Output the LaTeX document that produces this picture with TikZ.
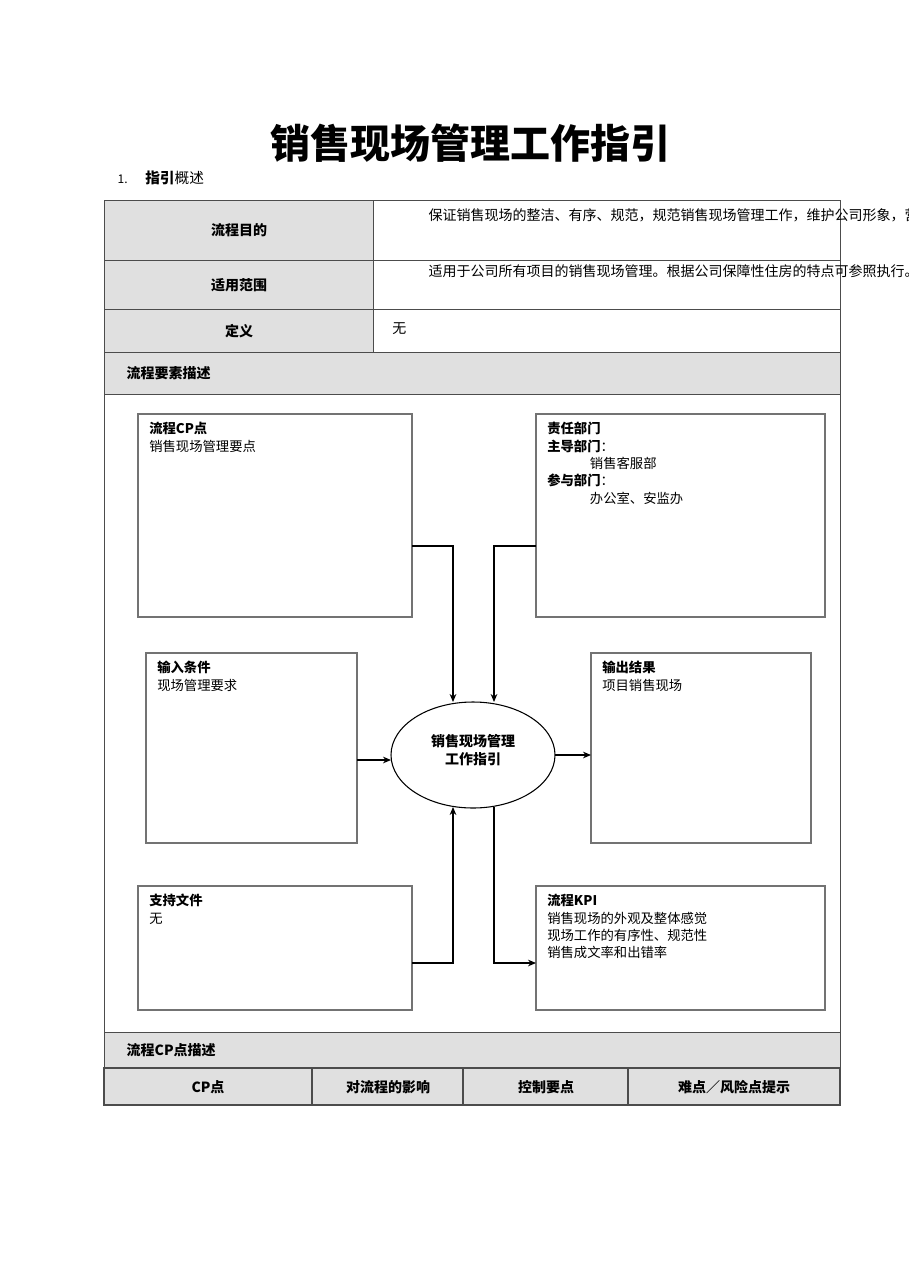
\documentclass[tikz,border=0pt]{standalone}
\usepackage{fontspec}
\setmainfont{Noto Sans CJK SC}
\usetikzlibrary{arrows.meta,calc}
\tikzset{
  box/.style={draw=black!55, thick},
  cell/.style={draw=black!70, thin},
  hdr/.style={cell, fill=black!12},
  flow/.style={-{Stealth[length=6pt,width=5pt]}, thick},
  txt/.style={anchor=north west, inner sep=0pt, font=\fontsize{10}{13}\selectfont, align=left},
  bold/.style={font=\fontsize{10.5}{13}\selectfont\bfseries}
}
\begin{document}
\begin{tikzpicture}[x=0.75pt,y=-0.75pt]
  \useasboundingbox (0,0) rectangle (909,1286);
  % title
  \node[font=\fontsize{30}{34}\selectfont\bfseries] (title) at (470,143) {销售现场管理工作指引};
  \node[anchor=west, font=\fontsize{9}{11}\selectfont] (num) at (113,179) {1.};
  \node[anchor=west, inner sep=0pt, font=\fontsize{11}{13}\selectfont] (sec) at (145,178) {\textbf{指引}概述};

  % table rows
  \draw[hdr] (104,200) rectangle (373,260);
  \draw[hdr] (104,260) rectangle (373,309);
  \draw[hdr] (104,309) rectangle (373,352);
  \draw[cell] (373,200) rectangle (840,260);
  \draw[cell] (373,260) rectangle (840,309);
  \draw[cell] (373,309) rectangle (840,352);
  \node[bold] (aim) at (239,230) {流程目的};
  \node[bold] (scope) at (239,285) {适用范围};
  \node[bold] (def) at (239,331) {定义};
  \node[txt, text width=326pt, font=\fontsize{10.5}{18.5}\selectfont] (aimtxt) at (392,208) {\hspace*{2.6em}保证销售现场的整洁、有序、规范，规范销售现场管理工作，维护公司形象，营造良好的销售现场环境。};
  \node[txt, text width=326pt, font=\fontsize{10.5}{18.5}\selectfont] (scopetxt) at (392,264) {\hspace*{2.6em}适用于公司所有项目的销售现场管理。根据公司保障性住房的特点可参照执行。};
  \node[txt, font=\fontsize{10.5}{13}\selectfont] (deftxt) at (392,322) {无};
  \draw[hdr] (104,352) rectangle (840,394);
  \node[bold, anchor=west] (elem) at (122,373) {流程要素描述};
  \draw[cell] (104,394) rectangle (840,1032);
  \draw[hdr] (104,1032) rectangle (840,1068);
  \node[bold, anchor=west] (cphdr) at (122,1050) {流程CP点描述};
  \draw[hdr, thick] (104,1068) rectangle (840,1105);
  \foreach \x in {312,463,628} \draw[cell, thick] (\x,1068) -- (\x,1105);
  \node[bold] (c1) at (208,1087) {CP点};
  \node[bold] (c2) at (388,1087) {对流程的影响};
  \node[bold] (c3) at (546,1087) {控制要点};
  \node[bold] (c4) at (734,1087) {难点／风险点提示};

  % element boxes
  \draw[box] (138,414) rectangle (412,617);
  \draw[box] (536,414) rectangle (825,617);
  \draw[box] (146,653) rectangle (357,843);
  \draw[box] (591,653) rectangle (811,843);
  \draw[box] (138,886) rectangle (412,1010);
  \draw[box] (536,886) rectangle (825,1010);
  \node[txt] (cp) at (149,422) {\textbf{流程CP点}\\销售现场管理要点};
  \node[txt] (dept) at (547,422) {\textbf{责任部门}\\\textbf{主导部门}：\\\hspace*{3.2em}销售客服部\\\textbf{参与部门}：\\\hspace*{3.2em}办公室、安监办};
  \node[txt] (input) at (157,661) {\textbf{输入条件}\\现场管理要求};
  \node[txt] (output) at (602,661) {\textbf{输出结果}\\项目销售现场};
  \node[txt] (docs) at (149,894) {\textbf{支持文件}\\无};
  \node[txt] (kpi) at (547,894) {\textbf{流程KPI}\\销售现场的外观及整体感觉\\现场工作的有序性、规范性\\销售成文率和出错率};

  % center
  \draw[thick] (473,755) ellipse [x radius=82, y radius=53];
  \node[bold, align=center] (core) at (473,750) {销售现场管理\\工作指引};
  \coordinate (eT1) at (453,702); \coordinate (eT2) at (494,702);
  \coordinate (eB1) at (453,807); \coordinate (eB2) at (494,807);
  \coordinate (eL) at (391,760); \coordinate (eR) at (555,755);

  % connectors
  \draw[flow] (412,546) -| (eT1);
  \draw[flow] (536,546) -| (eT2);
  \draw[flow] (357,760) -- (eL);
  \draw[flow] (eR) -- (591,755);
  \draw[flow] (412,963) -| (eB1);
  \draw[flow] (eB2) |- (536,963);
\end{tikzpicture}
\end{document}
